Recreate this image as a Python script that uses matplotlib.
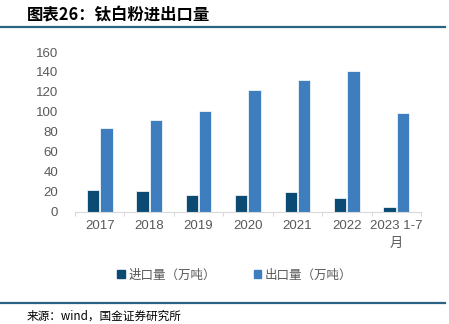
import numpy as np
import matplotlib
matplotlib.use('Agg')
from matplotlib import pyplot as plt
from matplotlib.patches import Patch
from matplotlib.lines import Line2D

plt.rcParams['font.family'] = ['Liberation Sans', 'Noto Sans CJK SC', 'DejaVu Sans']

years = ['2017', '2018', '2019', '2020', '2021', '2022', '2023 1-7\n月']
imports = [21.7, 20.7, 16.7, 17.0, 19.4, 13.4, 4.7]
exports = [83.4, 91.7, 101.0, 122.0, 131.7, 141.4, 98.4]

c_imp = '#0B4A72'
c_exp = '#3F7EBE'
grey = '#595959'
cjk = ['Noto Sans CJK SC', 'DejaVu Sans']

fig = plt.figure(figsize=(4.49, 3.24), dpi=100)
ax = fig.add_axes([0.167, 0.3466, 0.7706, 0.4929])

x = np.arange(len(years))
w = 0.25
ax.bar(x - w / 2 - 0.01, imports, w, color=c_imp, edgecolor='white', linewidth=0.5)
ax.bar(x + w / 2 + 0.01, exports, w, color=c_exp, edgecolor='white', linewidth=0.5)

ax.set_xlim(-0.5, len(years) - 0.5)
ax.set_ylim(0, 160)
ax.set_yticks(np.arange(0, 161, 20))
ax.set_xticks(x)
ax.set_xticklabels(years, fontsize=9.5, color=grey, linespacing=1.6)
ax.tick_params(axis='y', length=0, labelsize=9.5, labelcolor=grey, pad=12)
ax.tick_params(axis='x', length=0, pad=6)
ax.set_xticks(np.arange(-0.5, len(years)), minor=True)
ax.tick_params(axis='x', which='minor', length=3, color='#D9D9D9', width=0.8)
for s in ['top', 'right', 'left']:
    ax.spines[s].set_visible(False)
ax.spines['bottom'].set_color('#D9D9D9')
ax.spines['bottom'].set_linewidth(0.8)

handles = [Patch(color=c_imp), Patch(color=c_exp)]
fig.legend(handles, ['进口量（万吨）', '出口量（万吨）'], loc='center', bbox_to_anchor=(0.523, 0.151),
           ncol=2, frameon=False, handlelength=0.6, handleheight=0.6,
           handletextpad=0.3, columnspacing=3.0, labelcolor=grey,
           prop={'family': cjk, 'size': 9})

# title and rules
fig.text(0.06, 0.955, '图表26：钛白粉进出口量', fontsize=11.8, fontweight='bold', color='black',
         va='center', family=cjk)
fig.add_artist(Line2D([0, 0.99], [0.917, 0.917], color='#2A6485', lw=1.6))
fig.add_artist(Line2D([0, 0.99], [0.065, 0.065], color='#2A6485', lw=1.6))
fig.text(0.06, 0.025, '来源：wind，国金证券研究所', fontsize=8.4, color='black', va='center', family=cjk)

fig.savefig('out.png', dpi=100)
